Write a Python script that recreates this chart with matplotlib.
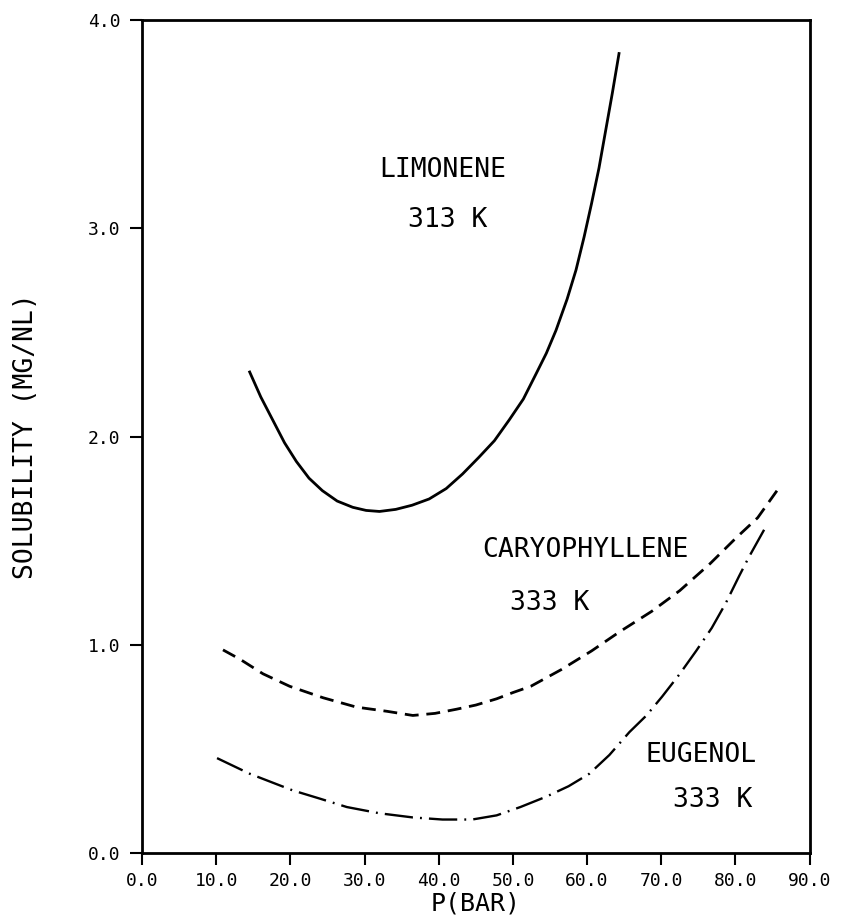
import matplotlib
matplotlib.use("Agg")
import matplotlib.pyplot as plt

# values
limonene_p = [14.5, 16.0, 17.6, 19.2, 20.8, 22.5, 24.3, 26.3, 28.4, 30.2, 32.0, 34.2, 36.4, 38.7,
              41.0, 43.2, 45.4, 47.5, 49.5, 51.4, 53.1, 54.5, 55.8, 57.3, 58.5, 59.6, 60.6, 61.6,
              62.5, 63.4, 64.3]
limonene_s = [2.31, 2.19, 2.08, 1.97, 1.88, 1.80, 1.74, 1.69, 1.66, 1.645, 1.64, 1.65, 1.67, 1.70,
              1.75, 1.82, 1.90, 1.98, 2.08, 2.18, 2.30, 2.40, 2.51, 2.66, 2.80, 2.96, 3.12, 3.29,
              3.47, 3.65, 3.84]

caryo_p = [10.9, 13.2, 16.3, 19.9, 24.4, 28.9, 33.0, 36.5, 39.5, 42.4, 45.0, 47.8, 50.0, 52.4,
           56.5, 60.6, 64.3, 68.7, 72.5, 76.6, 80.0, 83.0, 85.6]
caryo_s = [0.975, 0.93, 0.86, 0.80, 0.745, 0.70, 0.68, 0.66, 0.67, 0.69, 0.71, 0.74, 0.77, 0.80,
           0.88, 0.97, 1.06, 1.16, 1.26, 1.39, 1.51, 1.61, 1.74]

eugenol_p = [10.1, 14.5, 20.3, 24.0, 27.6, 32.0, 36.5, 40.5, 44.5, 47.8, 51.0, 54.5, 57.5, 60.3,
             63.0, 65.7, 68.0, 70.1, 72.5, 74.7, 76.8, 78.7, 80.5, 81.8, 84.3]
eugenol_s = [0.455, 0.38, 0.30, 0.26, 0.22, 0.19, 0.17, 0.16, 0.16, 0.18, 0.22, 0.27, 0.32, 0.38,
             0.47, 0.58, 0.66, 0.75, 0.86, 0.97, 1.08, 1.20, 1.33, 1.42, 1.58]

x_ticks = [0, 10, 20, 30, 40, 50, 60, 70, 80, 90]
y_ticks = [0, 1, 2, 3, 4]

mono = "DejaVu Sans Mono"
plt.rcParams["font.family"] = mono

fig = plt.figure(figsize=(8.46, 9.19), dpi=100)
ax = fig.add_axes([0.168, 0.072, 0.789, 0.906])

ax.plot(limonene_p, limonene_s, color="black", linewidth=2.0, solid_joinstyle="round")
ax.plot(caryo_p, caryo_s, color="black", linewidth=2.0, linestyle=(0, (5, 2.8)))
ax.plot(eugenol_p, eugenol_s, color="black", linewidth=1.7, linestyle=(0, (12, 3, 0.8, 3)))

ax.text(40.6, 3.28, "LIMONENE", fontsize=19, ha="center", va="center")
ax.text(41.2, 3.04, "313 K", fontsize=19, ha="center", va="center")
ax.text(59.8, 1.455, "CARYOPHYLLENE", fontsize=19, ha="center", va="center")
ax.text(55.0, 1.20, "333 K", fontsize=19, ha="center", va="center")
ax.text(75.4, 0.47, "EUGENOL", fontsize=19, ha="center", va="center")
ax.text(76.9, 0.255, "333 K", fontsize=19, ha="center", va="center")

ax.set_xlim(0, 90)
ax.set_ylim(0, 4)
ax.set_xticks(x_ticks)
ax.set_xticklabels(["%.1f" % v for v in x_ticks])
ax.set_yticks(y_ticks)
ax.set_yticklabels(["%.1f" % v for v in y_ticks])
ax.tick_params(direction="out", length=8.5, width=1.5, labelsize=13)
ax.tick_params(axis="x", pad=5)
ax.tick_params(axis="y", pad=7)

for s in ax.spines.values():
    s.set_linewidth(2.0)

ax.set_xlabel("P(BAR)", fontsize=18)
ax.set_ylabel("SOLUBILITY (MG/NL)", fontsize=19)
ax.xaxis.set_label_coords(0.5, -0.046)
ax.yaxis.set_label_coords(-0.155, 0.5)

fig.savefig("out.png", dpi=100)
